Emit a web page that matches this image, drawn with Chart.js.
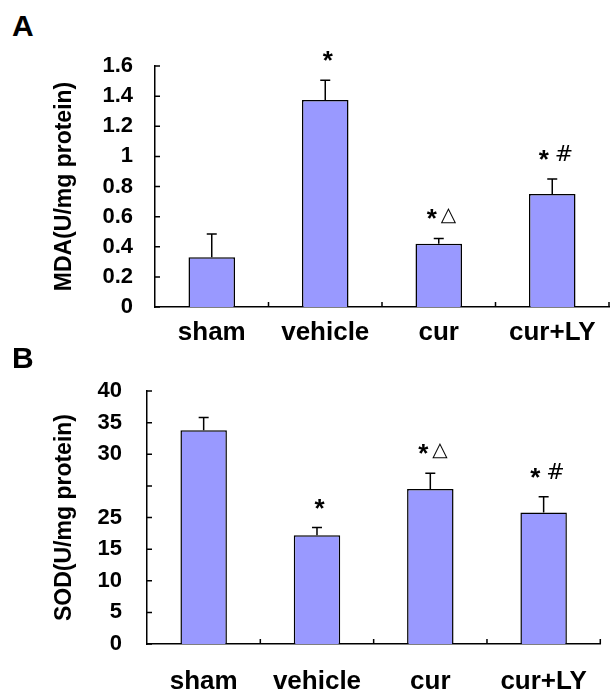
<!DOCTYPE html>
<html>
<head>
<meta charset="utf-8">
<script src="https://cdn.jsdelivr.net/npm/chart.js@4.4.0/dist/chart.umd.min.js"></script>
<style>
html,body{margin:0;padding:0;background:#fff;}
body{width:610px;height:694px;position:relative;overflow:hidden;font-family:Arial,"Liberation Sans",sans-serif;}
.panel{position:absolute;left:0;width:610px;height:347px;}
.tag{position:absolute;left:12px;font-weight:bold;font-size:30px;line-height:1;color:#000;}
</style>
</head>
<body>
<div class="tag" style="top:11px">A</div>
<div class="panel" style="top:0"><canvas id="chartA"></canvas></div>
<div class="tag" style="top:343px">B</div>
<div class="panel" style="top:347px"><canvas id="chartB"></canvas></div>
<script>
/***** data */
const categories = ['sham', 'vehicle', 'cur', 'cur+LY'];

const mdaValues = [0.33, 1.375, 0.42, 0.75];
const mdaErrors = [0.155, 0.13, 0.035, 0.10];
const mdaMarks  = ['', '*', '*△', '* #'];
const mdaTicks  = ['0', '0.2', '0.4', '0.6', '0.8', '1', '1.2', '1.4', '1.6'];

const sodValues = [33.8, 17.2, 24.5, 20.8];
const sodErrors = [2.0, 1.2, 2.5, 2.5];
const sodMarks  = ['', '*', '*△', '* #'];
const sodTicks  = ['0', '5', '10', '15', '25', '', '30', '35', '40']; // as printed in the source (no 20)
/*****/

const FONT = 'Arial, "Liberation Sans", sans-serif';
const BAR = '#9999ff';

// glyph style per mark character: font + vertical shift of its centre
const MARK_STYLE = {
  '*': { font: `bold 26px ${FONT}`, dy: -1 },
  '△': { font: `20px "DejaVu Sans", ${FONT}`, dy: 0 },
  '#': { font: `22px "DejaVu Sans", ${FONT}`, dy: -3 }
};

// error bars (upper half only) + significance marks
const errorBars = {
  id: 'errorBars',
  afterDatasetsDraw(chart, args, opts) {
    const {ctx} = chart;
    const y = chart.scales.y;
    const vals = chart.data.datasets[0].data;
    ctx.save();
    ctx.strokeStyle = '#000';
    ctx.fillStyle = '#000';
    ctx.lineWidth = 1.5;
    chart.getDatasetMeta(0).data.forEach((bar, i) => {
      const top = y.getPixelForValue(vals[i] + opts.errors[i]);
      ctx.beginPath();
      ctx.moveTo(bar.x, bar.y);
      ctx.lineTo(bar.x, top);
      ctx.moveTo(bar.x - 5, top);
      ctx.lineTo(bar.x + 5, top);
      ctx.stroke();

      const mark = opts.marks[i];
      if (!mark) return;
      const cy = top - 23;
      ctx.textAlign = 'left';
      ctx.textBaseline = 'alphabetic';
      const parts = [...mark].map(ch => {
        if (ch === ' ') return {ch, w: 3};
        const st = MARK_STYLE[ch] || MARK_STYLE['#'];
        ctx.font = st.font;
        const m = ctx.measureText(ch);
        return {ch, st, m, w: m.actualBoundingBoxRight + m.actualBoundingBoxLeft + 3};
      });
      const total = parts.reduce((s, p) => s + p.w, 0) - 3;
      let px = bar.x - total / 2 + 3;
      parts.forEach(p => {
        if (p.ch !== ' ') {
          ctx.font = p.st.font;
          const base = cy + p.st.dy + (p.m.actualBoundingBoxAscent - p.m.actualBoundingBoxDescent) / 2;
          ctx.fillText(p.ch, px + p.m.actualBoundingBoxLeft, base);
        }
        px += p.w;
      });
    });
    ctx.restore();
  }
};

// small inside tick marks like the original
const axisTicks = {
  id: 'axisTicks',
  afterDraw(chart) {
    const {ctx, chartArea: a, scales: {y}} = chart;
    const n = chart.data.labels.length;
    ctx.save();
    ctx.strokeStyle = '#000';
    ctx.lineWidth = 1.5;
    ctx.beginPath();
    y.ticks.forEach((t, i) => {
      const py = y.getPixelForTick(i);
      ctx.moveTo(a.left, py);
      ctx.lineTo(a.left + 5, py);
    });
    const w = (a.right - a.left) / n;
    for (let i = 1; i <= n; i++) {
      const px = a.left + i * w;
      ctx.moveTo(px, a.bottom);
      ctx.lineTo(px, a.bottom - 5);
    }
    ctx.stroke();
    ctx.restore();
  }
};

function makeChart(id, c) {
  return new Chart(document.getElementById(id), {
    type: 'bar',
    data: {
      labels: categories,
      datasets: [{
        data: c.values,
        backgroundColor: BAR,
        borderColor: '#000',
        borderWidth: 1.5,
        barPercentage: 0.41,
        categoryPercentage: 1
      }]
    },
    options: {
      responsive: true,
      maintainAspectRatio: false,
      animation: false,
      layout: { padding: { top: c.top, right: c.right, left: 0, bottom: 0 } },
      plugins: {
        legend: { display: false },
        tooltip: { enabled: false },
        errorBars: { errors: c.errors, marks: c.marks }
      },
      scales: {
        x: {
          ticks: { color: '#000', font: { family: FONT, size: 26, weight: 'bold', lineHeight: 1.2 },
                   padding: c.xPad, maxRotation: 0, autoSkip: false },
          grid: { display: false, drawTicks: false },
          border: { display: true, color: '#000', width: 1.5 },
          afterFit: s => { s.height = c.xHeight; }
        },
        y: {
          min: 0, max: c.max,
          ticks: { stepSize: c.step, color: '#000', font: { family: FONT, size: 22, weight: 'bold' },
                   padding: c.yPad, autoSkip: false, callback: (v, i) => c.ticks[i] },
          grid: { display: false, drawTicks: false },
          border: { display: true, color: '#000', width: 1.5 },
          title: { display: true, text: c.title, color: '#000',
                   font: { family: FONT, size: 23, weight: 'bold', lineHeight: 1.2 },
                   padding: { top: 51, bottom: 0 } },
          afterFit: s => { s.width = c.left; }
        }
      }
    },
    plugins: [errorBars, axisTicks]
  });
}

makeChart('chartA', {
  values: mdaValues, errors: mdaErrors, marks: mdaMarks, ticks: mdaTicks,
  max: 1.6, step: 0.2, title: 'MDA(U/mg protein)',
  top: 66, right: 1, left: 155, xHeight: 40, xPad: 10, yPad: 22
});

makeChart('chartB', {
  values: sodValues, errors: sodErrors, marks: sodMarks, ticks: sodTicks,
  max: 40, step: 5, title: 'SOD(U/mg protein)',
  top: 44, right: 9, left: 147, xHeight: 50, xPad: 22, yPad: 25
});
</script>
</body>
</html>
